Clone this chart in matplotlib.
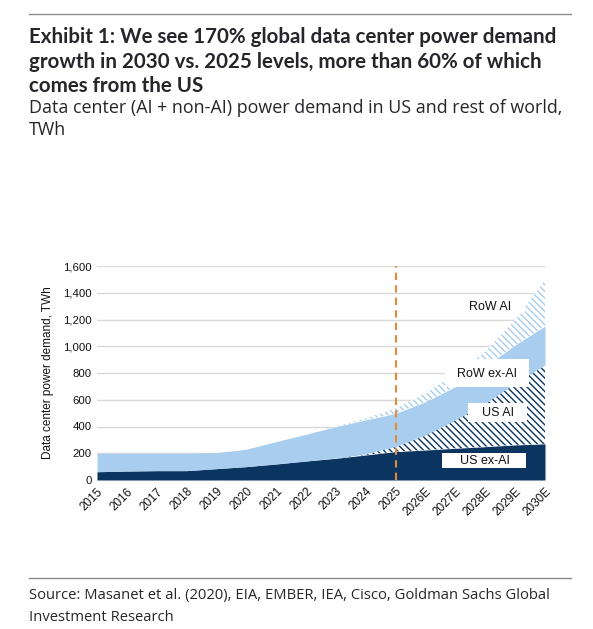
import matplotlib
matplotlib.use("Agg")
import matplotlib.pyplot as plt
import numpy as np
from matplotlib.lines import Line2D
from matplotlib.patches import Rectangle

years = ["2015", "2016", "2017", "2018", "2019", "2020", "2021", "2022", "2023",
         "2024", "2025", "2026E", "2027E", "2028E", "2029E", "2030E"]
us_ex_ai = [62, 67, 70, 70, 85, 100, 120, 142, 162, 187, 212, 224, 237, 249, 262, 270]
us_ai = [0, 0, 0, 0, 0, 0, 0, 0, 3, 8, 38, 112, 212, 324, 461, 590]
row_ex_ai = [138, 133, 130, 130, 120, 130, 167, 200, 234, 254, 248, 249, 249, 274, 286, 291]
row_ai = [0, 0, 0, 0, 0, 0, 0, 0, 3, 12, 38, 63, 99, 112, 187, 344]
series_labels = ["US ex-AI", "US AI", "RoW ex-AI", "RoW AI"]
yticks = [0, 200, 400, 600, 800, 1000, 1200, 1400, 1600]

title_lines = ["Exhibit 1: We see 170% global data center power demand",
               "growth in 2030 vs. 2025 levels, more than 60% of which",
               "comes from the US"]
subtitle_lines = ["Data center (AI + non-AI) power demand in US and rest of world,",
                  "TWh"]
source_lines = ["Source: Masanet et al. (2020), EIA, EMBER, IEA, Cisco, Goldman Sachs Global",
                "Investment Research"]

NAVY = "#0b3560"
LIGHT = "#a8cdee"
ORANGE = "#e08a3c"
TXT = "#25252b"

plt.rcParams["hatch.linewidth"] = 1.0

W, H = 593, 629
fig = plt.figure(figsize=(W / 100, H / 100), dpi=100)
renderer = fig.canvas.get_renderer()


def fy(py):
    return 1 - py / H


def fitted_lines(lines, baselines, target_w, family, weight):
    probe = fig.text(0, 0, lines[0], fontsize=10, family=family, fontweight=weight)
    w = probe.get_window_extent(renderer).width
    probe.remove()
    size = 10 * target_w / w
    for ln, b in zip(lines, baselines):
        fig.text(29 / W, fy(b), ln, ha="left", va="baseline", fontsize=size,
                 family=family, fontweight=weight, color=TXT)


# rules
fig.add_artist(Line2D([29 / W, 571 / W], [fy(14), fy(14)], color="#8a8a8a", lw=1.0))
fig.add_artist(Line2D([29 / W, 571 / W], [fy(578), fy(578)], color="#8a8a8a", lw=1.0))

fitted_lines(title_lines, [43, 68, 92], 529, "Lato", "bold")
fitted_lines(subtitle_lines, [113, 135], 533, "Open Sans", "normal")
fitted_lines(source_lines, [599, 621], 519, "Open Sans", "normal")

L, R, B, T = 97, 545, 480, 266
ax = fig.add_axes([L / W, fy(B), (R - L) / W, (B - T) / H])
x = np.arange(len(years))
a = np.array(us_ex_ai, float)
b = a + np.array(us_ai, float)
c = b + np.array(row_ex_ai, float)
d = c + np.array(row_ai, float)

ax.fill_between(x, 0, a, facecolor=NAVY, edgecolor=NAVY, linewidth=0, zorder=3)
ax.fill_between(x, a, b, facecolor="white", edgecolor=NAVY, hatch="\\" * 5,
                linewidth=0, zorder=3)
ax.fill_between(x, b, c, facecolor=LIGHT, edgecolor=LIGHT, linewidth=0, zorder=3)
ax.fill_between(x, c, d, facecolor="white", edgecolor=LIGHT, hatch="\\" * 5,
                linewidth=0, zorder=3)

ax.axvline(10, color=ORANGE, lw=1.5, ls=(0, (3.5, 2.5)), zorder=5)

ax.set_xlim(0, 15)
ax.set_ylim(0, 1600)
ax.set_yticks(yticks)
ax.set_yticklabels([f"{v:,}" for v in yticks])
ax.set_xticks(x)
ax.set_xticklabels(years, rotation=45, ha="right", rotation_mode="anchor")
ax.tick_params(length=0, labelcolor="#111111", pad=4)
ax.tick_params(axis="y", labelsize=8.2)
ax.tick_params(axis="x", labelsize=8.5)
for lbl in ax.get_xticklabels() + ax.get_yticklabels():
    lbl.set_family("Liberation Sans")
ax.grid(axis="y", color="#d9d9d9", lw=1.0, zorder=0)
ax.set_axisbelow(True)
for s in ax.spines.values():
    s.set_visible(False)
ax.set_ylabel("Data center power demand, TWh", fontsize=8.5, family="Liberation Sans",
              color="#111111", labelpad=6)

# label boxes (figure pixel coordinates: left, right, top, bottom, text center x, text center y)
label_boxes = [(442, 526, 453, 468, 485, 461),
               (468, 527, 403, 422, 498, 413),
               (445, 529, 359, 387, 487, 374),
               (455, 525, 299, 314, 490, 307)]
for (x0, x1, y0, y1, tx, ty), txt in zip(label_boxes, series_labels):
    fig.add_artist(Rectangle((x0 / W, fy(y1)), (x1 - x0) / W, (y1 - y0) / H,
                             transform=fig.transFigure, facecolor="white",
                             edgecolor="none", zorder=6))
    fig.text(tx / W, fy(ty), txt, ha="center", va="center", fontsize=9,
             family="Liberation Sans", color="#111111", zorder=7)

fig.savefig("out.png", dpi=100)
